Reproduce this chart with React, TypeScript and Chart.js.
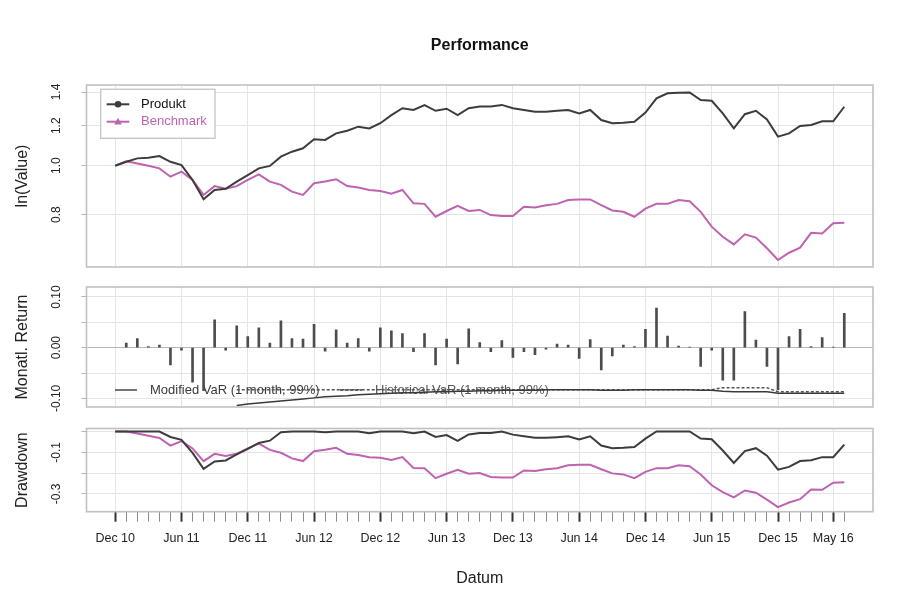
import React, { useEffect, useRef } from 'react';
import { Chart, registerables } from 'chart.js';

Chart.register(...registerables);

// ---------------- data ----------------
const monthLabels: string[] = [
  'Dec 10',
  'Jan 11', 'Feb 11', 'Mar 11', 'Apr 11', 'May 11', 'Jun 11', 'Jul 11', 'Aug 11', 'Sep 11', 'Oct 11', 'Nov 11', 'Dec 11',
  'Jan 12', 'Feb 12', 'Mar 12', 'Apr 12', 'May 12', 'Jun 12', 'Jul 12', 'Aug 12', 'Sep 12', 'Oct 12', 'Nov 12', 'Dec 12',
  'Jan 13', 'Feb 13', 'Mar 13', 'Apr 13', 'May 13', 'Jun 13', 'Jul 13', 'Aug 13', 'Sep 13', 'Oct 13', 'Nov 13', 'Dec 13',
  'Jan 14', 'Feb 14', 'Mar 14', 'Apr 14', 'May 14', 'Jun 14', 'Jul 14', 'Aug 14', 'Sep 14', 'Oct 14', 'Nov 14', 'Dec 14',
  'Jan 15', 'Feb 15', 'Mar 15', 'Apr 15', 'May 15', 'Jun 15', 'Jul 15', 'Aug 15', 'Sep 15', 'Oct 15', 'Nov 15', 'Dec 15',
  'Jan 16', 'Feb 16', 'Mar 16', 'Apr 16', 'May 16', 'Jun 16',
];

const majorTickLabels: string[] = [
  'Dec 10', 'Jun 11', 'Dec 11', 'Jun 12', 'Dec 12', 'Jun 13', 'Dec 13',
  'Jun 14', 'Dec 14', 'Jun 15', 'Dec 15', 'May 16',
];

const seriesNames: string[] = ['Produkt', 'Benchmark'];

const produktValue: number[] = [
  1.000, 1.018, 1.034, 1.037, 1.045, 1.018, 1.003, 0.937, 0.858, 0.895, 0.900, 0.930, 0.958,
  0.988, 0.999, 1.042, 1.066, 1.083, 1.128, 1.125, 1.159, 1.173, 1.195, 1.185, 1.214,
  1.260, 1.300, 1.290, 1.319, 1.285, 1.297, 1.260, 1.300, 1.310, 1.310, 1.320, 1.300,
  1.290, 1.280, 1.280, 1.285, 1.290, 1.270, 1.290, 1.232, 1.214, 1.217, 1.222, 1.275,
  1.360, 1.392, 1.395, 1.397, 1.350, 1.345, 1.270, 1.186, 1.265, 1.285, 1.235, 1.142,
  1.159, 1.199, 1.204, 1.225, 1.225, 1.309,
];

const benchmarkValue: number[] = [
  1.000, 1.020, 1.010, 1.000, 0.988, 0.951, 0.973, 0.937, 0.875, 0.911, 0.900, 0.911, 0.937,
  0.961, 0.930, 0.916, 0.888, 0.875, 0.923, 0.930, 0.940, 0.911, 0.905, 0.895, 0.891,
  0.880, 0.895, 0.842, 0.840, 0.792, 0.813, 0.832, 0.813, 0.817, 0.798, 0.795, 0.795,
  0.829, 0.826, 0.835, 0.840, 0.855, 0.857, 0.857, 0.835, 0.815, 0.810, 0.792, 0.822,
  0.840, 0.840, 0.855, 0.850, 0.810, 0.757, 0.723, 0.698, 0.731, 0.720, 0.686, 0.650,
  0.672, 0.688, 0.736, 0.734, 0.769, 0.771,
];

const produktReturn: (number | null)[] = [
  null, 0.009, 0.018, 0.002, 0.005, -0.034, -0.005, -0.068, -0.085, 0.055, -0.005, 0.043, 0.022,
  0.039, 0.009, 0.053, 0.018, 0.017, 0.046, -0.007, 0.035, 0.009, 0.018, -0.007, 0.039,
  0.033, 0.028, -0.008, 0.028, -0.034, 0.017, -0.032, 0.037, 0.010, -0.008, 0.014, -0.019,
  -0.008, -0.014, -0.003, 0.007, 0.005, -0.021, 0.016, -0.044, -0.016, 0.005, 0.002, 0.036,
  0.078, 0.023, 0.003, 0.001, -0.037, -0.005, -0.064, -0.064, 0.071, 0.015, -0.037, -0.083,
  0.022, 0.036, 0.002, 0.020, 0.001, 0.068,
];

const modifiedVaR: (number | null)[] = [
  null, null, null, null, null, null, null, null, null, null, null, -0.114, -0.111,
  -0.109, -0.107, -0.105, -0.103, -0.101, -0.099, -0.097, -0.096, -0.095, -0.093, -0.092, -0.091,
  -0.090, -0.089, -0.089, -0.088, -0.087, -0.087, -0.086, -0.086, -0.085, -0.085, -0.084, -0.084,
  -0.084, -0.084, -0.083, -0.083, -0.083, -0.083, -0.083, -0.084, -0.084, -0.084, -0.083, -0.083,
  -0.083, -0.083, -0.083, -0.083, -0.084, -0.084, -0.086, -0.087, -0.087, -0.087, -0.087, -0.090,
  -0.090, -0.090, -0.090, -0.090, -0.090, -0.090,
];

const historicalVaR: (number | null)[] = [
  null, null, null, null, null, null, null, null, null, null, null, -0.083, -0.083,
  -0.083, -0.083, -0.083, -0.083, -0.083, -0.083, -0.083, -0.083, -0.083, -0.083, -0.083, -0.083,
  -0.083, -0.083, -0.083, -0.083, -0.083, -0.083, -0.083, -0.083, -0.083, -0.083, -0.083, -0.083,
  -0.083, -0.083, -0.083, -0.083, -0.083, -0.083, -0.083, -0.083, -0.083, -0.083, -0.083, -0.083,
  -0.083, -0.083, -0.083, -0.083, -0.083, -0.083, -0.079, -0.079, -0.079, -0.079, -0.079, -0.087,
  -0.087, -0.087, -0.087, -0.087, -0.087, -0.087,
];

const produktDrawdown: number[] = [
  0, 0, 0, 0, 0, -0.026, -0.040, -0.103, -0.179, -0.144, -0.139, -0.110, -0.083,
  -0.055, -0.044, -0.003, 0, 0, 0, -0.003, 0, 0, 0, -0.008, 0,
  0, 0, -0.008, 0, -0.026, -0.017, -0.045, -0.014, -0.007, -0.007, 0, -0.015,
  -0.023, -0.030, -0.030, -0.027, -0.023, -0.038, -0.023, -0.067, -0.080, -0.078, -0.074, -0.034,
  0, 0, 0, 0, -0.034, -0.037, -0.091, -0.151, -0.094, -0.080, -0.116, -0.183,
  -0.170, -0.142, -0.138, -0.123, -0.123, -0.063,
];

const benchmarkDrawdown: number[] = [
  0, 0, -0.010, -0.020, -0.031, -0.068, -0.046, -0.081, -0.142, -0.107, -0.118, -0.107, -0.081,
  -0.058, -0.088, -0.102, -0.129, -0.142, -0.095, -0.088, -0.078, -0.107, -0.113, -0.123, -0.126,
  -0.137, -0.123, -0.175, -0.176, -0.224, -0.203, -0.184, -0.203, -0.199, -0.218, -0.221, -0.221,
  -0.187, -0.190, -0.181, -0.176, -0.162, -0.160, -0.160, -0.181, -0.201, -0.206, -0.224, -0.194,
  -0.176, -0.176, -0.162, -0.167, -0.206, -0.258, -0.291, -0.316, -0.283, -0.294, -0.327, -0.363,
  -0.341, -0.325, -0.278, -0.280, -0.246, -0.244,
];

const perfTicks: number[] = [0.8, 1.0, 1.2, 1.4];
const perfLabeled: number[] = [0.8, 1.0, 1.2, 1.4];
const retTicks: number[] = [-0.1, -0.05, 0, 0.05, 0.1];
const retLabeled: number[] = [-0.1, 0, 0.1];
const ddTicks: number[] = [0, -0.1, -0.2, -0.3];
const ddLabeled: number[] = [-0.1, -0.3];

// ---------------- styles ----------------
const FONT = "'Liberation Sans', Arial, Helvetica, sans-serif";
const C_PRODUKT = '#3c3c3c';
const C_BENCH = '#c062b2';
const C_GRID = '#e4e4e4';
const C_BOX = '#c4c0bc';
const C_TEXT = '#222222';
const X_MIN = -2.6;
const X_MAX = 68.6;
const Y_AXIS_W = 86.5;
const PAD_RIGHT = 38;

Chart.defaults.font.family = FONT;

const xPositions = monthLabels.map((_, i) => i);
const isMajor = (v: number) => majorTickLabels.includes(monthLabels[v]);

function xScale(showLabels: boolean) {
  return {
    type: 'linear',
    min: X_MIN,
    max: X_MAX,
    offset: false,
    afterBuildTicks: (s: any) => {
      s.ticks = xPositions.map((v) => ({ value: v }));
    },
    afterFit: (s: any) => {
      s.height = showLabels ? 98.3 : 0;
      s.paddingLeft = 0;
      s.paddingRight = 0;
    },
    border: { display: false },
    grid: {
      offset: false,
      color: (c: any) => (c.tick && isMajor(c.tick.value) ? C_GRID : 'rgba(0,0,0,0)'),
      lineWidth: 1,
      drawTicks: showLabels,
      tickLength: 10,
      tickColor: (c: any) => (c.tick && isMajor(c.tick.value) ? '#333333' : '#8a8a8a'),
      tickWidth: (c: any) => (c.tick && isMajor(c.tick.value) ? 2 : 1),
    },
    ticks: {
      display: showLabels,
      autoSkip: false,
      maxRotation: 0,
      minRotation: 0,
      padding: 9,
      color: C_TEXT,
      font: { family: FONT, size: 12.5 },
      callback: (v: number) => (isMajor(v) ? monthLabels[v] : ''),
    },
    title: showLabels
      ? { display: true, text: 'Datum', color: C_TEXT, font: { family: FONT, size: 16 }, padding: { top: 0, bottom: 21.4 } }
      : { display: false },
  };
}

function yScale(o: {
  type: string;
  min: number;
  max: number;
  ticks: number[];
  labeled: number[];
  digits: number;
  title: string;
  labelPad: number;
  zeroDark?: boolean;
}) {
  return {
    type: o.type,
    min: o.min,
    max: o.max,
    afterBuildTicks: (s: any) => {
      s.ticks = o.ticks.map((v) => ({ value: v }));
    },
    afterFit: (s: any) => {
      s.width = Y_AXIS_W;
      s.paddingTop = 0;
      s.paddingBottom = 0;
    },
    border: { display: false },
    grid: {
      color: (c: any) => (o.zeroDark && c.tick && c.tick.value === 0 ? '#b8b8b8' : C_GRID),
      lineWidth: 1,
      drawTicks: true,
      tickLength: 5,
      tickColor: '#b5b5b5',
    },
    ticks: {
      autoSkip: false,
      minRotation: 90,
      maxRotation: 90,
      crossAlign: 'center',
      padding: o.labelPad,
      color: C_TEXT,
      font: { family: FONT, size: 12 },
      callback: (v: number) => (o.labeled.includes(v) ? v.toFixed(o.digits) : ''),
    },
    title: {
      display: true,
      text: o.title,
      color: C_TEXT,
      font: { family: FONT, size: 16 },
      padding: { top: 13, bottom: 0 },
    },
  };
}

const boxPlugin = {
  id: 'plotBox',
  afterDatasetsDraw(chart: any) {
    const { ctx, chartArea } = chart;
    ctx.save();
    ctx.strokeStyle = C_BOX;
    ctx.lineWidth = 1.6;
    ctx.strokeRect(chartArea.left, chartArea.top, chartArea.right - chartArea.left, chartArea.bottom - chartArea.top);
    ctx.restore();
  },
};

const perfLegendPlugin = {
  id: 'perfLegend',
  afterDatasetsDraw(chart: any) {
    const { ctx, chartArea } = chart;
    const bx = chartArea.left + 14.2;
    const by = chartArea.top + 4.3;
    ctx.save();
    ctx.fillStyle = '#ffffff';
    ctx.fillRect(bx, by, 114.3, 49);
    ctx.strokeStyle = '#c8c8c8';
    ctx.lineWidth = 1.4;
    ctx.strokeRect(bx, by, 114.3, 49);
    const colors = [C_PRODUKT, C_BENCH];
    seriesNames.forEach((name, k) => {
      const y = chartArea.top + 19.3 + k * 17.4;
      const x0 = chartArea.left + 20.2;
      const x1 = chartArea.left + 42.8;
      const xm = (x0 + x1) / 2;
      ctx.strokeStyle = colors[k];
      ctx.fillStyle = colors[k];
      ctx.lineWidth = 2;
      ctx.beginPath();
      ctx.moveTo(x0, y);
      ctx.lineTo(x1, y);
      ctx.stroke();
      ctx.beginPath();
      if (k === 0) {
        ctx.arc(xm, y, 3.3, 0, Math.PI * 2);
      } else {
        ctx.moveTo(xm, y - 4);
        ctx.lineTo(xm + 3.8, y + 2.8);
        ctx.lineTo(xm - 3.8, y + 2.8);
        ctx.closePath();
      }
      ctx.fill();
      ctx.font = `13px ${FONT}`;
      ctx.textAlign = 'left';
      ctx.textBaseline = 'middle';
      ctx.fillStyle = k === 0 ? '#111111' : C_BENCH;
      ctx.fillText(name, chartArea.left + 54.5, y);
    });
    ctx.restore();
  },
};

const varLegendPlugin = {
  id: 'varLegend',
  beforeDatasetsDraw(chart: any) {
    const { ctx, chartArea } = chart;
    const y = chartArea.top + 103;
    const L = chartArea.left;
    ctx.save();
    ctx.strokeStyle = '#3a3a3a';
    ctx.lineWidth = 1.4;
    ctx.beginPath();
    ctx.moveTo(L + 28.5, y);
    ctx.lineTo(L + 50.5, y);
    ctx.stroke();
    ctx.setLineDash([3, 2]);
    ctx.beginPath();
    ctx.moveTo(L + 253.5, y);
    ctx.lineTo(L + 275.5, y);
    ctx.stroke();
    ctx.setLineDash([]);
    ctx.font = `13px ${FONT}`;
    ctx.textAlign = 'left';
    ctx.textBaseline = 'middle';
    ctx.fillStyle = '#3a3a3a';
    ctx.fillText('Modified VaR (1 month, 99%)', L + 63.5, y);
    ctx.fillStyle = '#555555';
    ctx.fillText('Historical VaR (1 month, 99%)', L + 288.5, y);
    ctx.restore();
  },
};

const baseOptions = {
  animation: false,
  responsive: false,
  maintainAspectRatio: false,
  events: [],
};

export default function App() {
  const r1 = useRef<HTMLCanvasElement>(null);
  const r2 = useRef<HTMLCanvasElement>(null);
  const r3 = useRef<HTMLCanvasElement>(null);

  useEffect(() => {
    const lineDs = (label: string, data: any[], color: string) => ({
      type: 'line',
      label,
      data,
      borderColor: color,
      backgroundColor: color,
      borderWidth: 2,
      pointRadius: 0,
      tension: 0,
      fill: false,
    });

    const c1 = new Chart(r1.current as HTMLCanvasElement, {
      type: 'line',
      data: {
        labels: xPositions,
        datasets: [
          lineDs(seriesNames[0], produktValue, C_PRODUKT),
          lineDs(seriesNames[1], benchmarkValue, C_BENCH),
        ],
      },
      options: {
        ...baseOptions,
        layout: { padding: { left: 0, right: PAD_RIGHT, top: 0, bottom: 10 } },
        plugins: {
          legend: { display: false },
          tooltip: { enabled: false },
          title: {
            display: true,
            text: 'Performance',
            fullSize: false,
            color: '#111111',
            font: { family: FONT, size: 16, weight: 'bold' },
            padding: { top: 36.4, bottom: 29.4 },
          },
        },
        scales: {
          x: xScale(false),
          y: yScale({
            type: 'logarithmic', min: 0.6296, max: 1.4456, ticks: perfTicks, labeled: perfLabeled,
            digits: 1, title: 'ln(Value)', labelPad: 16.2,
          }),
        },
      } as any,
      plugins: [boxPlugin, perfLegendPlugin],
    } as any);

    const c2 = new Chart(r2.current as HTMLCanvasElement, {
      type: 'bar',
      data: {
        labels: xPositions,
        datasets: [
          {
            type: 'line',
            label: 'Modified VaR (1 month, 99%)',
            data: modifiedVaR,
            borderColor: '#3a3a3a',
            borderWidth: 1.5,
            pointRadius: 0,
            spanGaps: false,
            order: 1,
          },
          {
            type: 'line',
            label: 'Historical VaR (1 month, 99%)',
            data: historicalVaR,
            borderColor: '#555555',
            borderWidth: 1.5,
            borderDash: [3, 2],
            pointRadius: 0,
            spanGaps: false,
            order: 2,
          },
          {
            type: 'bar',
            label: seriesNames[0],
            data: produktReturn,
            backgroundColor: '#4d4d4d',
            barThickness: 2,
            order: 3,
          },
        ],
      },
      options: {
        ...baseOptions,
        layout: { padding: { left: 0, right: PAD_RIGHT, top: 10, bottom: 10 } },
        plugins: { legend: { display: false }, tooltip: { enabled: false }, title: { display: false } },
        scales: {
          x: xScale(false),
          y: yScale({
            type: 'linear', min: -0.117, max: 0.1197, ticks: retTicks, labeled: retLabeled,
            digits: 2, title: 'Monatl. Return', labelPad: 10.8, zeroDark: true,
          }),
        },
      } as any,
      plugins: [varLegendPlugin, boxPlugin],
    } as any);

    const c3 = new Chart(r3.current as HTMLCanvasElement, {
      type: 'line',
      data: {
        labels: xPositions,
        datasets: [
          lineDs(seriesNames[0], produktDrawdown, C_PRODUKT),
          lineDs(seriesNames[1], benchmarkDrawdown, C_BENCH),
        ],
      },
      options: {
        ...baseOptions,
        layout: { padding: { left: 0, right: PAD_RIGHT, top: 11.5, bottom: 0 } },
        plugins: { legend: { display: false }, tooltip: { enabled: false }, title: { display: false } },
        scales: {
          x: xScale(true),
          y: yScale({
            type: 'linear', min: -0.385, max: 0.0145, ticks: ddTicks, labeled: ddLabeled,
            digits: 1, title: 'Drawdown', labelPad: 14.1,
          }),
        },
      } as any,
      plugins: [boxPlugin],
    } as any);

    return () => {
      c1.destroy();
      c2.destroy();
      c3.destroy();
    };
  }, []);

  return (
    <div style={{ position: 'absolute', left: 0, top: 0, width: 911, height: 610, background: '#ffffff', overflow: 'hidden' }}>
      <canvas ref={r1} width={911} height={277} style={{ position: 'absolute', left: 0, top: 0 }} />
      <canvas ref={r2} width={911} height={140} style={{ position: 'absolute', left: 0, top: 277 }} />
      <canvas ref={r3} width={911} height={193} style={{ position: 'absolute', left: 0, top: 417 }} />
    </div>
  );
}
